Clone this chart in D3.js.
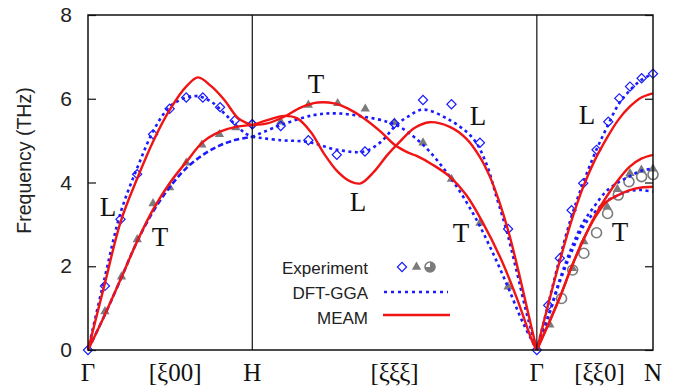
<!DOCTYPE html>
<html>
<head>
<meta charset="utf-8">
<script src="https://cdn.jsdelivr.net/npm/d3@7"></script>
<style>
  body { margin: 0; background: #fff; }
  svg { display: block; }
</style>
</head>
<body>
<svg id="chart" width="681" height="392"></svg>
<script>
// path lengths of the three segments (units of 2pi/a): G-H, H-G, G-N
var segLen = [1, Math.sqrt(3), Math.SQRT2 / 2];
var segOff = [0, segLen[0], segLen[0] + segLen[1]];
var total = segOff[2] + segLen[2];

var yTicks = [0, 2, 4, 6, 8];
var xLabels = ["Γ", "[ξ00]", "H", "[ξξξ]", "Γ", "[ξξ0]", "N"];
// label place: [segment, fraction of segment]
var xLabelPos = [[0, 0], [0, 0.53], [1, 0], [1, 0.5], [2, 0], [2, 0.54], [2, 1]];

// ---- Gamma -> H  [xi00] ----
var gh_tL = [0, 0.1, 0.2, 0.3, 0.4, 0.5, 0.6, 0.67, 0.75, 0.83, 0.91, 0.96, 1];
var gh_meamL = [0, 1.55, 3.08, 4.1, 5.01, 5.75, 6.3, 6.51, 6.3, 5.97, 5.55, 5.43, 5.37];
var gh_dftL = [0, 1.7, 3.3, 4.35, 5.25, 5.82, 6.03, 6.06, 5.93, 5.65, 5.33, 5.17, 5.09];
var gh_tT = [0, 0.1, 0.2, 0.3, 0.4, 0.5, 0.6, 0.7, 0.8, 0.9, 1];
var gh_meamT = [0, 0.82, 1.7, 2.6, 3.38, 4.0, 4.5, 4.97, 5.21, 5.33, 5.37];
var gh_dftT = [0, 0.82, 1.7, 2.6, 3.33, 3.9, 4.35, 4.66, 4.88, 5.02, 5.09];
var gh_expLt = [0, 0.103, 0.198, 0.299, 0.396, 0.497, 0.598, 0.699, 0.804, 0.893, 1];
var gh_expL = [0, 1.53, 3.12, 4.2, 5.15, 5.76, 6.03, 6.03, 5.8, 5.48, 5.39];
var gh_expTt = [0.103, 0.204, 0.3, 0.396, 0.497, 0.598, 0.693, 0.8, 0.9];
var gh_expT = [0.92, 1.75, 2.64, 3.5, 3.88, 4.47, 4.9, 5.15, 5.31];

// ---- H -> Gamma  [xixixi] ----
var hg_sT = [0, 0.053, 0.112, 0.17, 0.229, 0.288, 0.335, 0.393, 0.452, 0.5, 0.546, 0.576, 0.635, 0.694, 0.752, 0.811, 0.87, 0.928, 0.987, 1];
var hg_meamT = [5.37, 5.41, 5.57, 5.79, 5.91, 5.89, 5.77, 5.53, 5.21, 4.9, 4.72, 4.64, 4.42, 4.14, 3.7, 3.03, 2.23, 1.27, 0.16, 0];
var hg_sL = [0, 0.053, 0.112, 0.158, 0.205, 0.252, 0.3, 0.346, 0.381, 0.428, 0.475, 0.518, 0.57, 0.623, 0.694, 0.752, 0.799, 0.835, 0.87, 0.905, 0.94, 0.975, 1];
var hg_meamL = [5.37, 5.49, 5.59, 5.53, 5.21, 4.69, 4.26, 4.02, 3.98, 4.26, 4.66, 4.97, 5.3, 5.44, 5.33, 5.05, 4.62, 4.14, 3.5, 2.71, 1.75, 0.72, 0];
var hg_dsT = [0, 0.1, 0.217, 0.3, 0.393, 0.475, 0.518, 0.6, 0.694, 0.776, 0.835, 0.893, 0.952, 1];
var hg_dftT = [5.09, 5.37, 5.61, 5.65, 5.57, 5.45, 5.33, 4.9, 4.14, 3.26, 2.47, 1.59, 0.64, 0];
var hg_dsL = [0, 0.1, 0.194, 0.3, 0.393, 0.452, 0.5, 0.546, 0.6, 0.694, 0.776, 0.822, 0.858, 0.893, 0.928, 0.964, 1];
var hg_dftL = [5.09, 5.01, 4.97, 4.78, 4.74, 4.97, 5.33, 5.57, 5.74, 5.49, 5.05, 4.46, 3.66, 2.87, 1.91, 0.88, 0];
var hg_expLs = [0, 0.1, 0.197, 0.297, 0.396, 0.499, 0.6, 0.7, 0.8, 0.899, 1];
var hg_expL = [5.39, 5.35, 5.01, 4.66, 4.74, 5.41, 5.97, 5.87, 4.95, 2.89, 0];
var hg_expTs = [0.1, 0.197, 0.3, 0.397, 0.5, 0.6, 0.7, 0.8, 0.899];
var hg_expT = [5.45, 5.85, 5.89, 5.76, 5.43, 4.95, 4.08, 3.03, 1.51];

// ---- Gamma -> N  [xixi0] ----
var gn_u = [0, 0.1, 0.2, 0.3, 0.4, 0.5, 0.6, 0.7, 0.8, 0.9, 1];
var gn_meamL = [0, 1.11, 2.15, 3.1, 3.9, 4.54, 5.05, 5.49, 5.81, 6.03, 6.13];
var gn_meamT1 = [0, 0.62, 1.27, 1.99, 2.63, 3.2, 3.66, 4.06, 4.38, 4.57, 4.66];
var gn_meamT2 = [0, 0.62, 1.27, 1.99, 2.63, 3.16, 3.54, 3.7, 3.82, 3.88, 3.9];
var gn_dftL = [0, 1.12, 2.22, 3.2, 4.0, 4.7, 5.3, 5.85, 6.2, 6.45, 6.6];
var gn_dftT1 = [0, 0.82, 1.7, 2.45, 3.05, 3.45, 3.8, 4.0, 4.15, 4.28, 4.33];
var gn_dftT2 = [0, 0.8, 1.65, 2.35, 2.95, 3.3, 3.55, 3.7, 3.8, 3.82, 3.78];
var gn_expLu = [0.098, 0.198, 0.299, 0.399, 0.514, 0.615, 0.71, 0.802, 0.902, 1];
var gn_expL = [1.07, 2.19, 3.34, 3.98, 4.78, 5.45, 6.01, 6.29, 6.49, 6.6];
var gn_expTu = [0.112, 0.308, 0.405, 0.606, 0.693, 0.802, 0.9, 1];
var gn_expT = [0.6, 1.95, 2.59, 3.42, 3.84, 4.22, 4.3, 4.33];
var gn_expCu = [0.213, 0.308, 0.405, 0.514, 0.609, 0.701, 0.793, 0.902, 1];
var gn_expC = [1.23, 1.91, 2.31, 2.8, 3.26, 3.7, 4.02, 4.14, 4.19];

// branch labels
var branchText = ["L", "T", "T", "L", "L", "T", "L", "T"];
var branchAt = [[108, 207], [160, 237], [316, 84], [358, 202], [478, 116], [461, 233], [587, 115], [620, 232]];

var pL = 88, pR = 653, pT = 15, pB = 350;

var x = d3.scaleLinear().domain([0, total]).range([pL, pR]);
var y = d3.scaleLinear().domain([0, 8]).range([pB, pT]);

function pts(seg, fr, vals) {
  return fr.map(function(f, i) { return [segOff[seg] + f * segLen[seg], vals[i]]; });
}

var svg = d3.select("#chart");

var line = d3.line()
    .x(function(d) { return x(d[0]); })
    .y(function(d) { return y(d[1]); })
    .curve(d3.curveCatmullRom.alpha(0.5));

// Experiment markers
var diamonds = [].concat(pts(0, gh_expLt, gh_expL), pts(1, hg_expLs, hg_expL), pts(2, gn_expLu, gn_expL));
var triangles = [].concat(pts(0, gh_expTt, gh_expT), pts(1, hg_expTs, hg_expT), pts(2, gn_expTu, gn_expT));
var circles = pts(2, gn_expCu, gn_expC);

var gray = "#7b7b7b";
var blue = "#1a1aff";
var red = "#f01414";

svg.append("g").selectAll("circle")
  .data(circles).enter().append("circle")
    .attr("cx", function(d) { return x(d[0]); })
    .attr("cy", function(d) { return y(d[1]); })
    .attr("r", 5)
    .attr("fill", "none")
    .attr("stroke", gray)
    .attr("stroke-width", 1.6);

svg.append("g").selectAll("path")
  .data(triangles).enter().append("path")
    .attr("d", d3.symbol(d3.symbolTriangle, 38))
    .attr("transform", function(d) { return "translate(" + x(d[0]) + "," + y(d[1]) + ")"; })
    .attr("fill", gray);

svg.append("g").selectAll("path")
  .data(diamonds).enter().append("path")
    .attr("d", d3.symbol(d3.symbolSquare, 42))
    .attr("transform", function(d) { return "translate(" + x(d[0]) + "," + y(d[1]) + ") rotate(45)"; })
    .attr("fill", "none")
    .attr("stroke", blue)
    .attr("stroke-width", 1.2);

// DFT-GGA  (the [xi00] T branch is drawn with longer dashes, as in the figure)
var dftCurves = [
  [pts(0, gh_tL, gh_dftL), "3,3.5"], [pts(0, gh_tT, gh_dftT), "5.5,3"],
  [pts(1, hg_dsT, hg_dftT), "3,3.5"], [pts(1, hg_dsL, hg_dftL), "3,3.5"],
  [pts(2, gn_u, gn_dftL), "3,3.5"], [pts(2, gn_u, gn_dftT1), "3,3.5"], [pts(2, gn_u, gn_dftT2), "3,3.5"]
];
svg.append("g").selectAll("path")
  .data(dftCurves).enter().append("path")
    .attr("d", function(d) { return line(d[0]); })
    .attr("fill", "none")
    .attr("stroke", blue)
    .attr("stroke-width", 2.6)
    .attr("stroke-dasharray", function(d) { return d[1]; });

// MEAM
var meamCurves = [
  pts(0, gh_tL, gh_meamL), pts(0, gh_tT, gh_meamT),
  pts(1, hg_sT, hg_meamT), pts(1, hg_sL, hg_meamL),
  pts(2, gn_u, gn_meamL), pts(2, gn_u, gn_meamT1), pts(2, gn_u, gn_meamT2)
];
svg.append("g").selectAll("path")
  .data(meamCurves).enter().append("path")
    .attr("d", line)
    .attr("fill", "none")
    .attr("stroke", red)
    .attr("stroke-width", 2.4);

// frame, symmetry point lines
svg.append("rect")
    .attr("x", pL).attr("y", pT)
    .attr("width", pR - pL).attr("height", pB - pT)
    .attr("fill", "none").attr("stroke", "#111").attr("stroke-width", 1.5);

[segOff[1], segOff[2]].forEach(function(p) {
  svg.append("line")
      .attr("x1", x(p)).attr("x2", x(p))
      .attr("y1", pT).attr("y2", pB)
      .attr("stroke", "#111").attr("stroke-width", 1.2);
});

// y axes
var yAxis = svg.append("g")
    .attr("transform", "translate(" + pL + ",0)")
    .call(d3.axisLeft(y).tickValues(yTicks).tickSizeInner(-8).tickSizeOuter(0).tickPadding(16));
yAxis.select(".domain").remove();
yAxis.selectAll("line").attr("stroke", "#111").attr("stroke-width", 1.2);
yAxis.selectAll("text")
    .attr("font-family", "Liberation Sans, Arial, sans-serif")
    .attr("font-size", "21px")
    .attr("fill", "#222");

var yAxisR = svg.append("g")
    .attr("transform", "translate(" + pR + ",0)")
    .call(d3.axisRight(y).tickValues(yTicks).tickSizeInner(-8).tickSizeOuter(0).tickFormat(""));
yAxisR.select(".domain").remove();
yAxisR.selectAll("line").attr("stroke", "#111").attr("stroke-width", 1.2);

svg.append("text")
    .attr("transform", "translate(31," + ((pT + pB) / 2 - 22) + ") rotate(-90)")
    .attr("text-anchor", "middle")
    .attr("font-family", "Liberation Sans, Arial, sans-serif")
    .attr("font-size", "19.5px")
    .attr("fill", "#222")
    .text("Frequency (THz)");

// x labels
svg.append("g").selectAll("text")
  .data(xLabels).enter().append("text")
    .attr("x", function(d, i) { return x(segOff[xLabelPos[i][0]] + xLabelPos[i][1] * segLen[xLabelPos[i][0]]); })
    .attr("y", 381)
    .attr("text-anchor", "middle")
    .attr("font-family", "Liberation Serif, Times New Roman, serif")
    .attr("font-size", "25px")
    .attr("fill", "#111")
    .text(function(d) { return d; });

// branch labels
svg.append("g").selectAll("text")
  .data(branchText).enter().append("text")
    .attr("x", function(d, i) { return branchAt[i][0]; })
    .attr("y", function(d, i) { return branchAt[i][1] + 9; })
    .attr("text-anchor", "middle")
    .attr("font-family", "Liberation Serif, Times New Roman, serif")
    .attr("font-size", "27px")
    .attr("fill", "#111")
    .text(function(d) { return d; });

// legend
var legend = svg.append("g");
var legFont = "Liberation Sans, Arial, sans-serif";
[["Experiment", 274], ["DFT-GGA", 299], ["MEAM", 324]].forEach(function(r) {
  legend.append("text")
      .attr("x", 368).attr("y", r[1])
      .attr("text-anchor", "end")
      .attr("font-family", legFont)
      .attr("font-size", "17px")
      .attr("fill", "#222")
      .text(r[0]);
});
legend.append("path")
    .attr("d", d3.symbol(d3.symbolSquare, 42))
    .attr("transform", "translate(402,267) rotate(45)")
    .attr("fill", "none").attr("stroke", blue).attr("stroke-width", 1.2);
legend.append("path")
    .attr("d", d3.symbol(d3.symbolTriangle, 38))
    .attr("transform", "translate(416.5,267)")
    .attr("fill", gray);
legend.append("circle")
    .attr("cx", 430).attr("cy", 267).attr("r", 5)
    .attr("fill", "none").attr("stroke", gray).attr("stroke-width", 1.6);
legend.append("path")
    .attr("d", d3.arc()({ innerRadius: 0, outerRadius: 5, startAngle: 0, endAngle: 1.5 * Math.PI }))
    .attr("transform", "translate(430,267)")
    .attr("fill", gray);
legend.append("line")
    .attr("x1", 384).attr("x2", 448).attr("y1", 292).attr("y2", 292)
    .attr("stroke", blue).attr("stroke-width", 2.6).attr("stroke-dasharray", "3,4");
legend.append("line")
    .attr("x1", 383).attr("x2", 450).attr("y1", 315).attr("y2", 315)
    .attr("stroke", red).attr("stroke-width", 2.4);
</script>
</body>
</html>
